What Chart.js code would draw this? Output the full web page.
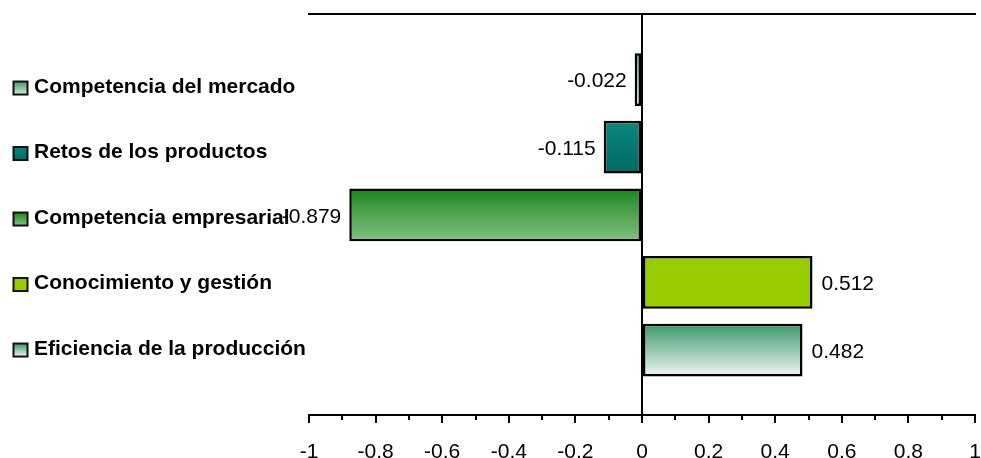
<!DOCTYPE html>
<html>
<head>
<meta charset="utf-8">
<script src="https://cdn.jsdelivr.net/npm/chart.js@4.4.1/dist/chart.umd.min.js"></script>
<style>
  html, body { margin: 0; padding: 0; background: #fff; }
  canvas { display: block; }
</style>
</head>
<body>
<canvas id="chart" width="981" height="458"></canvas>
<script>
// Factor scores per category
const categories = [
  'Competencia del mercado',
  'Retos de los productos',
  'Competencia empresarial',
  'Conocimiento y gestión',
  'Eficiencia de la producción'
];
const values = [-0.022, -0.115, -0.879, 0.512, 0.482];

// Horizontal axis ticks
const xTicks = [-1, -0.8, -0.6, -0.4, -0.2, 0, 0.2, 0.4, 0.6, 0.8, 1];
const xTickLabels = ['-1', '-0.8', '-0.6', '-0.4', '-0.2', '0', '0.2', '0.4', '0.6', '0.8', '1'];

// Vertical gradient stops (top -> bottom) for each bar
const fills = [
  ['#3d9b63', '#d3eadb'],
  ['#0b8780', '#006963'],
  ['#1a861a', '#52a452', '#80c080'],
  ['#99cc00', '#99cc00'],
  ['#3a9668', '#f0f7f2']
];

const FONT = '"Liberation Sans", Arial, sans-serif';
const BAR_SHARE = 0.78;

function gradientFor(ctx2d, stops, top, bottom) {
  const g = ctx2d.createLinearGradient(0, top, 0, bottom);
  stops.forEach((col, k) => g.addColorStop(k / (stops.length - 1), col));
  return g;
}

function barFill(context) {
  const chart = context.chart;
  const stops = fills[context.dataIndex] || fills[0];
  const ys = chart.scales.y;
  if (!ys) return stops[0];
  const c = ys.getPixelForValue(context.dataIndex);
  const step = Math.abs(ys.getPixelForValue(1) - ys.getPixelForValue(0));
  if (!isFinite(c) || !isFinite(step) || step === 0) return stops[0];
  const half = step * BAR_SHARE / 2;
  return gradientFor(chart.ctx, stops, c - half, c + half);
}

const indexTicks = (axis) => { axis.ticks = categories.map((_, i) => ({ value: i })); };
const noEdgePadding = (axis) => { axis.paddingLeft = 0; axis.paddingRight = 0; };

// Value labels beside each bar and the small colour keys before each category name
const decorations = {
  id: 'decorations',
  afterDatasetsDraw(chart) {
    const ctx = chart.ctx;
    const meta = chart.getDatasetMeta(0);
    ctx.save();
    ctx.font = '21px ' + FONT;
    ctx.fillStyle = '#000';
    ctx.textBaseline = 'middle';
    meta.data.forEach((bar, i) => {
      const v = values[i];
      const txt = v.toFixed(3);
      if (v < 0) {
        ctx.textAlign = 'right';
        ctx.fillText(txt, bar.x - 8, bar.y + 2);
      } else {
        ctx.textAlign = 'left';
        ctx.fillText(txt, bar.x + 9, bar.y + 2);
      }
    });

    const yl = chart.scales.yLab;
    categories.forEach((_, i) => {
      const cy = yl.getPixelForValue(i) + 1;
      const top = cy - 6.5, h = 13, left = 13.5, w = 14;
      ctx.fillStyle = gradientFor(ctx, fills[i], top, top + h);
      ctx.fillRect(left, top, w, h);
      ctx.lineWidth = 2;
      ctx.strokeStyle = '#111';
      ctx.strokeRect(left, top, w, h);
    });
    ctx.restore();
  }
};

new Chart(document.getElementById('chart'), {
  type: 'bar',
  data: {
    datasets: [{
      data: categories.map((c, i) => ({ x: values[i], y: i })),
      backgroundColor: barFill,
      borderColor: '#000',
      borderWidth: 2.5,
      borderSkipped: false,
      barPercentage: 1,
      categoryPercentage: BAR_SHARE,
      xAxisID: 'x',
      yAxisID: 'y'
    }]
  },
  options: {
    indexAxis: 'y',
    responsive: false,
    animation: false,
    events: [],
    layout: { padding: { left: 34, right: 6, top: 14, bottom: 0 } },
    plugins: {
      legend: { display: false },
      tooltip: { enabled: false }
    },
    scales: {
      y: {
        type: 'linear',
        display: false,
        offset: false,
        reverse: true,
        min: -0.9686,
        max: 4.961,
        afterBuildTicks: indexTicks
      },
      yLab: {
        type: 'linear',
        position: 'left',
        offset: false,
        reverse: true,
        min: -1.115,
        max: 5.007,
        grid: { display: false, offset: false },
        border: { display: false },
        afterBuildTicks: indexTicks,
        afterFit: (axis) => { axis.width = 275; axis.paddingTop = 0; axis.paddingBottom = 0; },
        ticks: {
          crossAlign: 'far',
          padding: 0,
          autoSkip: false,
          color: '#000',
          font: { family: FONT, size: 21, weight: 'bold' },
          callback: (v, idx) => categories[idx]
        }
      },
      xTop: {
        type: 'linear',
        position: 'top',
        min: -1,
        max: 1,
        grid: { display: true, drawOnChartArea: false, drawTicks: false },
        border: { display: true, color: '#000', width: 2 },
        ticks: { display: false },
        afterFit: (axis) => { axis.height = 0; noEdgePadding(axis); }
      },
      xMinor: {
        type: 'linear',
        position: 'bottom',
        weight: 0,
        min: -1,
        max: 1,
        afterBuildTicks: (axis) => {
          const mids = [];
          for (let k = 0; k < xTicks.length - 1; k++) mids.push({ value: (xTicks[k] + xTicks[k + 1]) / 2 });
          axis.ticks = mids;
        },
        grid: { drawOnChartArea: false, tickLength: 5, tickColor: '#000', lineWidth: 2, color: 'rgba(0,0,0,0)' },
        border: { display: false },
        ticks: { display: false },
        afterFit: (axis) => { axis.height = 0; noEdgePadding(axis); }
      },
      x: {
        type: 'linear',
        position: 'bottom',
        weight: 1,
        min: -1,
        max: 1,
        afterBuildTicks: (axis) => { axis.ticks = xTicks.map(v => ({ value: v })); },
        afterFit: (axis) => { axis.height = 43; noEdgePadding(axis); },
        grid: {
          drawOnChartArea: true,
          color: (c) => (c.tick && c.tick.value === 0 ? '#000' : 'rgba(0,0,0,0)'),
          lineWidth: 2,
          tickColor: '#000',
          tickLength: 8
        },
        border: { display: true, color: '#000', width: 2 },
        ticks: {
          padding: 17,
          maxRotation: 0,
          autoSkip: false,
          color: '#000',
          font: { family: FONT, size: 21 },
          callback: (v, idx) => xTickLabels[idx]
        }
      }
    }
  },
  plugins: [decorations]
});
</script>
</body>
</html>
